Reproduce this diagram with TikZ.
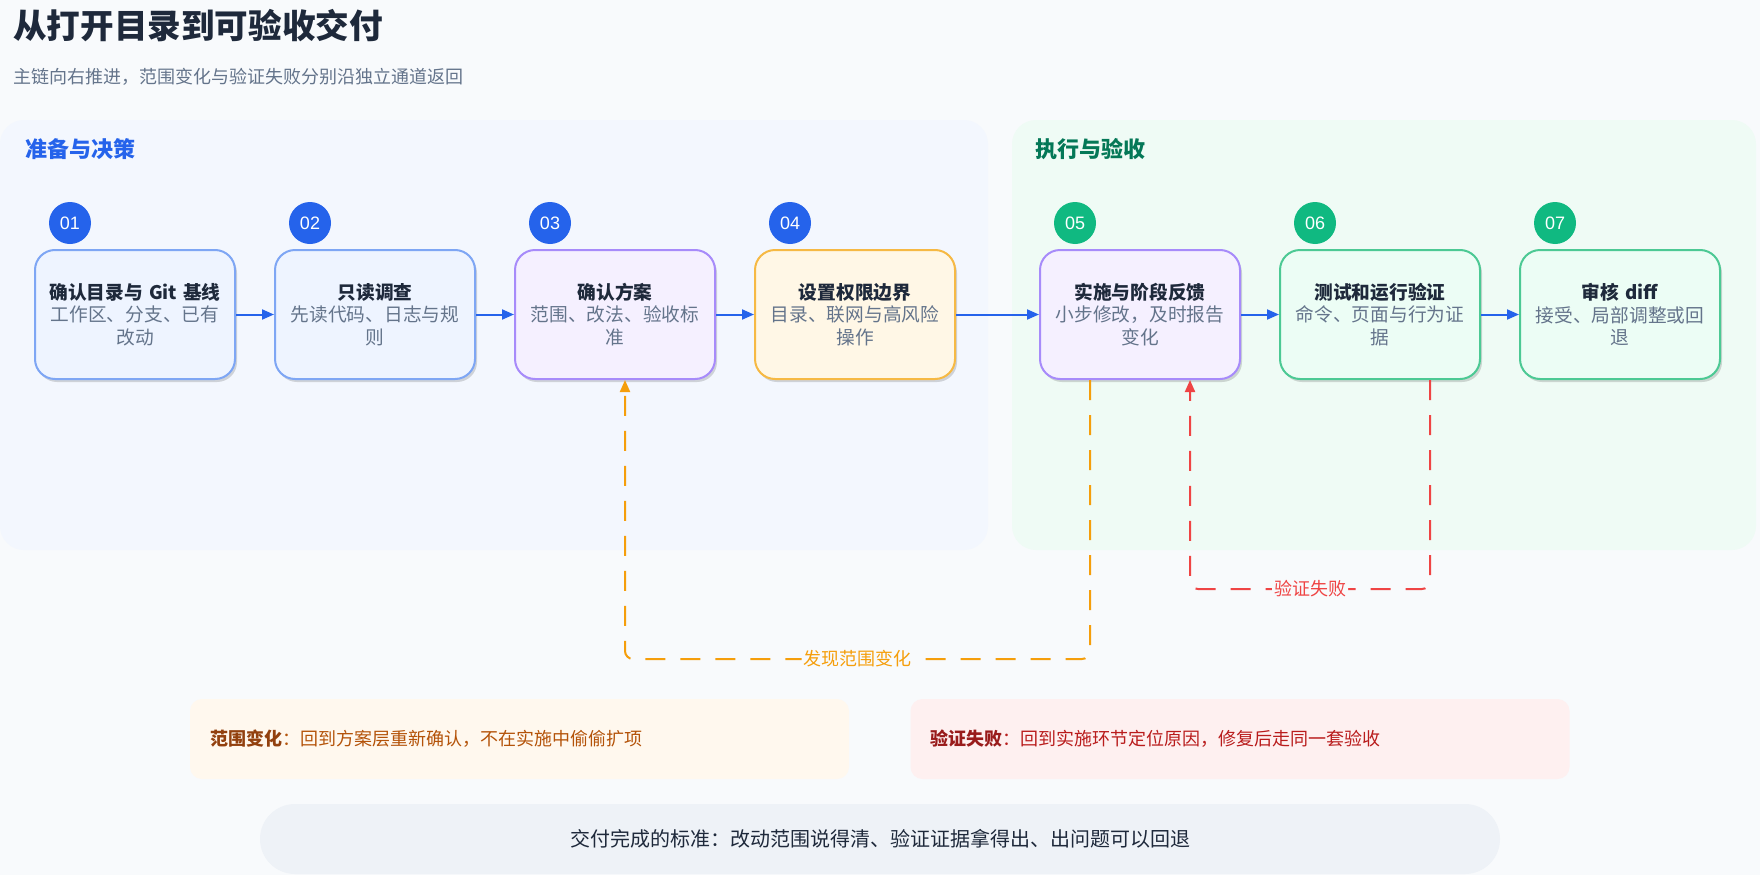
\documentclass[tikz,border=0pt]{standalone}
\usepackage{fontspec}
\setmainfont{Noto Sans CJK SC}
\newfontfamily\digitfont{Liberation Sans}
\usetikzlibrary{arrows.meta,shadows,calc}
\definecolor{bg}{HTML}{F8FAFC}
\definecolor{ink}{HTML}{1E293B}
\definecolor{muted}{HTML}{64748B}
\definecolor{mainblue}{HTML}{2563EB}
\definecolor{maingreen}{HTML}{10B981}
\definecolor{headgreen}{HTML}{047857}
\definecolor{panelL}{HTML}{F3F7FE}
\definecolor{panelR}{HTML}{EFFBF5}
\definecolor{bfillB}{HTML}{EEF4FF}
\definecolor{bdrawB}{HTML}{7EA6F4}
\definecolor{bfillP}{HTML}{F5F0FF}
\definecolor{bdrawP}{HTML}{A78BFA}
\definecolor{bfillO}{HTML}{FFF7E6}
\definecolor{bdrawO}{HTML}{F6B944}
\definecolor{bfillG}{HTML}{ECFDF5}
\definecolor{bdrawG}{HTML}{4CC994}
\definecolor{loopO}{HTML}{F59E0B}
\definecolor{loopR}{HTML}{EF4444}
\definecolor{noteOfill}{HTML}{FFF8EE}
\definecolor{noteOtext}{HTML}{B45309}
\definecolor{noteObold}{HTML}{92400E}
\definecolor{noteRfill}{HTML}{FEF0F0}
\definecolor{noteRtext}{HTML}{B91C1C}
\definecolor{noteRbold}{HTML}{991B1B}
\definecolor{pillfill}{HTML}{EEF2F7}
\tikzset{
  stepbox/.style={rectangle, rounded corners=20pt, minimum width=200pt, minimum height=129pt,
    line width=2pt, align=center, text width=186pt, inner sep=0pt,
    font=\fontsize{18.7}{22.5}\selectfont, text=muted,
    drop shadow={shadow xshift=2pt, shadow yshift=-3pt, opacity=0.15, fill=black}},
  bluebox/.style={stepbox, fill=bfillB, draw=bdrawB},
  purplebox/.style={stepbox, fill=bfillP, draw=bdrawP},
  amberbox/.style={stepbox, fill=bfillO, draw=bdrawO},
  greenbox/.style={stepbox, fill=bfillG, draw=bdrawG},
  numdot/.style={circle, minimum size=42pt, inner sep=0pt, text=white,
    font=\digitfont\fontsize{18}{18}\selectfont},
  flow/.style={draw=mainblue, line width=2pt, -{Triangle[length=12pt,width=10pt]}},
  loopline/.style={line width=2pt, dash pattern=on 20pt off 15pt, rounded corners=8pt,
    -{Triangle[length=12pt,width=10pt]}},
  looplab/.style={fill=bg, inner sep=2pt, font=\fontsize{18}{18}\selectfont},
  notebox/.style={rectangle, rounded corners=12pt, minimum width=659pt, minimum height=80pt,
    text width=619pt, align=left, inner sep=0pt, font=\fontsize{18}{18}\selectfont},
  heading/.style={anchor=west, inner sep=0pt, font=\fontsize{22}{22}\selectfont\bfseries},
}
\begin{document}
\begin{tikzpicture}[x=1pt,y=-1pt]
\fill[bg] (0,0) rectangle (1760,875);
\useasboundingbox (0,0) rectangle (1760,875);

% title
\node[anchor=west, inner sep=0pt, text=ink, font=\fontsize{33.6}{33.6}\selectfont\bfseries] (title) at (13,26) {从打开目录到可验收交付};
\node[anchor=west, inner sep=0pt, text=muted, font=\fontsize{18}{18}\selectfont] (subtitle) at (13,77) {主链向右推进，范围变化与验证失败分别沿独立通道返回};

% panels
\fill[panelL, rounded corners=24pt] (0,120) rectangle (988,550);
\fill[panelR, rounded corners=24pt] (1012,120) rectangle (1756,550);
\node[heading, text=mainblue] (hL) at (25,149) {准备与决策};
\node[heading, text=headgreen] (hR) at (1035,149) {执行与验收};

% step boxes
\node[bluebox] (b1) at (135,314.5) {{\bfseries\color{ink}确认目录与 Git 基线}\\工作区、分支、已有\\改动};
\node[bluebox] (b2) at (375,314.5) {{\bfseries\color{ink}只读调查}\\先读代码、日志与规\\则};
\node[purplebox] (b3) at (615,314.5) {{\bfseries\color{ink}确认方案}\\范围、改法、验收标\\准};
\node[amberbox] (b4) at (855,314.5) {{\bfseries\color{ink}设置权限边界}\\目录、联网与高风险\\操作};
\node[purplebox] (b5) at (1140,314.5) {{\bfseries\color{ink}实施与阶段反馈}\\小步修改，及时报告\\变化};
\node[greenbox] (b6) at (1380,314.5) {{\bfseries\color{ink}测试和运行验证}\\命令、页面与行为证\\据};
\node[greenbox] (b7) at (1620,314.5) {{\bfseries\color{ink}审核 diff}\\接受、局部调整或回\\退};

% number dots
\node[numdot, fill=mainblue] (n1) at (70,223) {01};
\node[numdot, fill=mainblue] (n2) at (310,223) {02};
\node[numdot, fill=mainblue] (n3) at (550,223) {03};
\node[numdot, fill=mainblue] (n4) at (790,223) {04};
\node[numdot, fill=maingreen] (n5) at (1075,223) {05};
\node[numdot, fill=maingreen] (n6) at (1315,223) {06};
\node[numdot, fill=maingreen] (n7) at (1555,223) {07};

% main chain
\draw[flow] (b1) -- (b2);
\draw[flow] (b2) -- (b3);
\draw[flow] (b3) -- (b4);
\draw[flow] (b4) -- (b5);
\draw[flow] (b5) -- (b6);
\draw[flow] (b6) -- (b7);

% return channels
\coordinate (o1) at ($(b5.south)+(-50,0)$);
\coordinate (o3) at ($(b3.south)+(10,0)$);
\coordinate (ylowO) at (0,659);
\draw[loopline, draw=loopO] (o1) -- (o1 |- ylowO) -- node[looplab, text=loopO] (labO) {发现范围变化} (o3 |- ylowO) -- (o3);

\coordinate (r1) at ($(b6.south)+(50,0)$);
\coordinate (r2) at ($(b5.south)+(50,0)$);
\coordinate (ylowR) at (0,589);
\draw[loopline, draw=loopR] (r1) -- (r1 |- ylowR) -- node[looplab, text=loopR] (labR) {验证失败} (r2 |- ylowR) -- (r2);

% notes
\node[notebox, fill=noteOfill, text=noteOtext] (noteO) at (519.5,739) {{\bfseries\color{noteObold}范围变化}：回到方案层重新确认，不在实施中偷偷扩项};
\node[notebox, fill=noteRfill, text=noteRtext] (noteR) at (1240,739) {{\bfseries\color{noteRbold}验证失败}：回到实施环节定位原因，修复后走同一套验收};

% bottom pill
\node[rectangle, rounded corners=35pt, minimum width=1240pt, minimum height=70pt, inner sep=0pt,
  fill=pillfill, text=ink, font=\fontsize{20}{20}\selectfont] (pill) at (880,839) {交付完成的标准：改动范围说得清、验证证据拿得出、出问题可以回退};
\end{tikzpicture}
\end{document}
